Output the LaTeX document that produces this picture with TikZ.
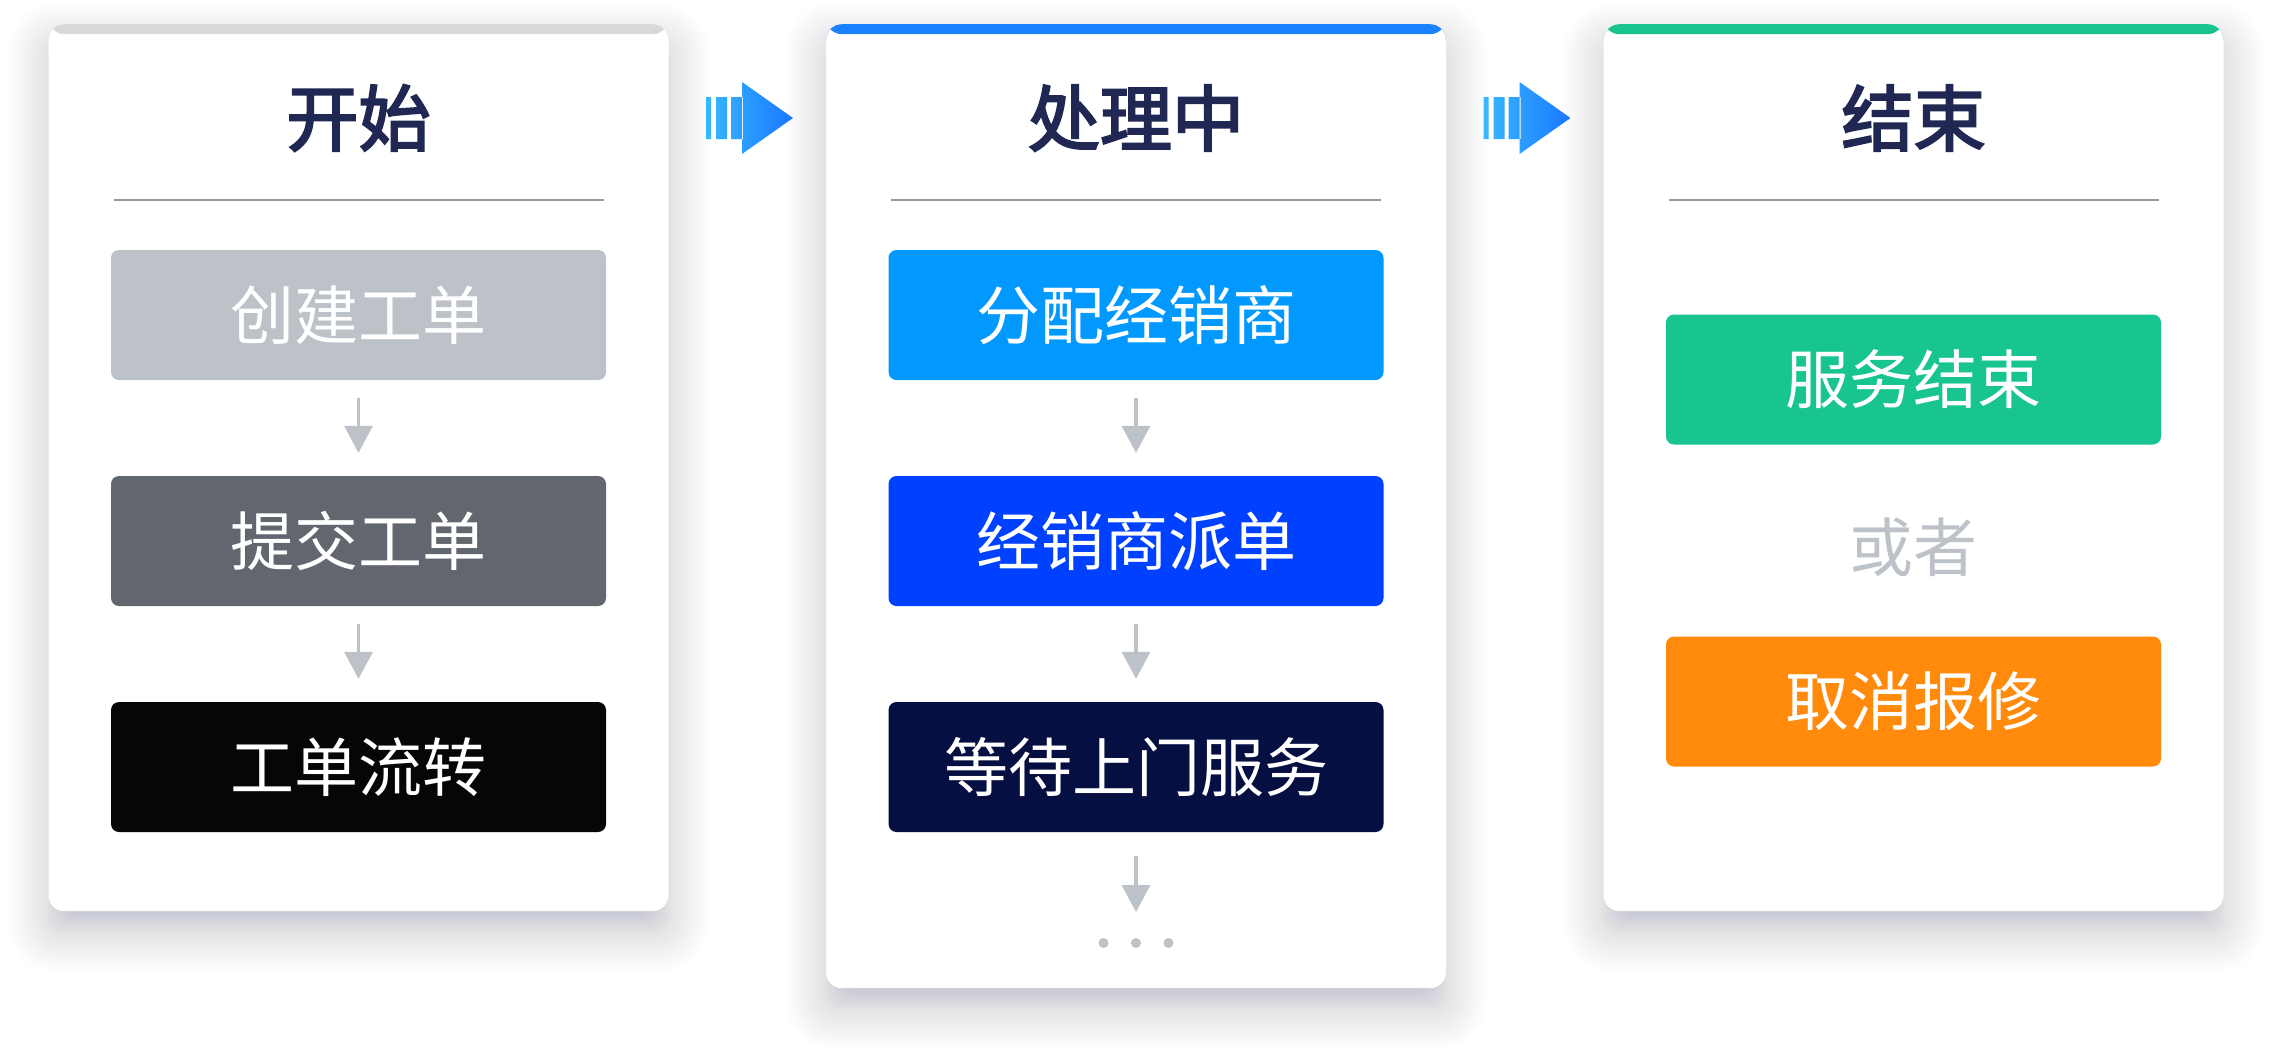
\documentclass[tikz,border=0pt]{standalone}
\usepackage{fontspec}
\newfontfamily\cjk{Noto Sans CJK SC}
\newfontfamily\cjkt[FakeBold=3]{Noto Sans CJK SC}
\usetikzlibrary{arrows.meta}
\definecolor{titlec}{HTML}{1F2752}
\definecolor{divc}{HTML}{9A9A9A}
\definecolor{flowc}{HTML}{BDC2C8}
\definecolor{bargrey}{HTML}{D9D9D9}
\definecolor{barblue}{HTML}{1A82FF}
\definecolor{bargreen}{HTML}{18C38F}
\definecolor{boxa}{HTML}{BDC2C8}
\definecolor{boxb}{HTML}{62666E}
\definecolor{boxc}{HTML}{060606}
\definecolor{boxd}{HTML}{0299FE}
\definecolor{boxe}{HTML}{0040FF}
\definecolor{boxf}{HTML}{060F42}
\definecolor{boxg}{HTML}{18C48F}
\definecolor{boxh}{HTML}{FF8A0B}
\definecolor{arrl}{HTML}{38B8FF}
\definecolor{arrr}{HTML}{1A78FF}
\definecolor{shadowc}{HTML}{8C91AA}
\newcommand\cardshadow[3]{%
  \foreach \e in {-20,-18.5,...,46}{%
    \pgfmathsetmacro{\rr}{16+max(\e,0)*0.8}%
    \pgfmathsetmacro{\op}{0.0105*(1-max(\e,0)/52)}%
    \fill[shadowc,opacity=\op,rounded corners=\rr pt]
      (#1-\e,#2+20-\e) rectangle (#1+620+\e,#3+20+\e);
  }%
}
\newcommand\flowarrow[1]{%
  \begin{scope}[xshift=#1]
  \shade[left color=arrl,right color=arrr]
    (706,97) rectangle (711,139)
    (716,97) rectangle (727,139)
    (731,97) rectangle (743,139)
    (742,82) -- (793,118) -- (742,154) -- cycle;
  \end{scope}}
\begin{document}
\begin{tikzpicture}[x=1pt,y=-1pt,
  card/.style={fill=white,rounded corners=16pt,minimum width=620pt,inner sep=0pt,anchor=north,
    path picture={\fill[#1] (path picture bounding box.north west) rectangle ([yshift=-10pt]path picture bounding box.north east);}},
  stepbox/.style={fill=#1,rounded corners=8pt,minimum width=495pt,minimum height=130pt,inner sep=0pt,
    text=white,font=\cjk\fontsize{64}{70}\selectfont},
  title/.style={text=titlec,font=\cjkt\fontsize{72}{80}\selectfont},
  divider/.style={draw=divc,line width=2pt},
  flow/.style={draw=flowc,line width=3.5pt,-{Triangle[width=28pt,length=27pt]},shorten <=18pt,shorten >=23pt},
  dot/.style={circle,fill=flowc,minimum size=10pt,inner sep=0pt},
]
\useasboundingbox (0,0) rectangle (2272,1060);
\fill[white] (0,0) rectangle (2272,1060);

% shadows
\cardshadow{48.5}{24}{911}
\cardshadow{826}{24}{988}
\cardshadow{1603.5}{24}{911}

% cards
\node[card=bargrey,minimum height=887pt] (card1) at (358.5,24) {};
\node[card=barblue,minimum height=964pt] (card2) at (1136,24) {};
\node[card=bargreen,minimum height=887pt] (card3) at (1913.5,24) {};

% stage arrows
\flowarrow{0pt}
\flowarrow{777.5pt}

% titles
\node[title] (t1) at (358.5,118) {开始};
\node[title] (t2) at (1136,118) {处理中};
\node[title] (t3) at (1913.5,118) {结束};

% dividers
\draw[divider] (113.5,200) -- (603.5,200);
\draw[divider] (891,200) -- (1381,200);
\draw[divider] (1668.5,200) -- (2158.5,200);

% column 1
\node[stepbox=boxa] (a1) at (358.5,315) {创建工单};
\node[stepbox=boxb] (a2) at (358.5,541) {提交工单};
\node[stepbox=boxc] (a3) at (358.5,767) {工单流转};
\draw[flow] (a1) -- (a2);
\draw[flow] (a2) -- (a3);

% column 2
\node[stepbox=boxd] (b1) at (1136,315) {分配经销商};
\node[stepbox=boxe] (b2) at (1136,541) {经销商派单};
\node[stepbox=boxf] (b3) at (1136,767) {等待上门服务};
\draw[flow] (b1) -- (b2);
\draw[flow] (b2) -- (b3);
\coordinate (bend) at (1136,912);
\draw[flow,shorten <=24pt,shorten >=0pt] (b3) -- (bend);
\node[dot] (d1) at (1103.5,943) {};
\node[dot] (d2) at (1136,943) {};
\node[dot] (d3) at (1168.5,943) {};

% column 3
\node[stepbox=boxg] (c1) at (1913.5,379.5) {服务结束};
\node[text=flowc,font=\cjk\fontsize{64}{70}\selectfont] (or) at (1913.5,547) {或者};
\node[stepbox=boxh] (c2) at (1913.5,701.5) {取消报修};
\end{tikzpicture}
\end{document}
